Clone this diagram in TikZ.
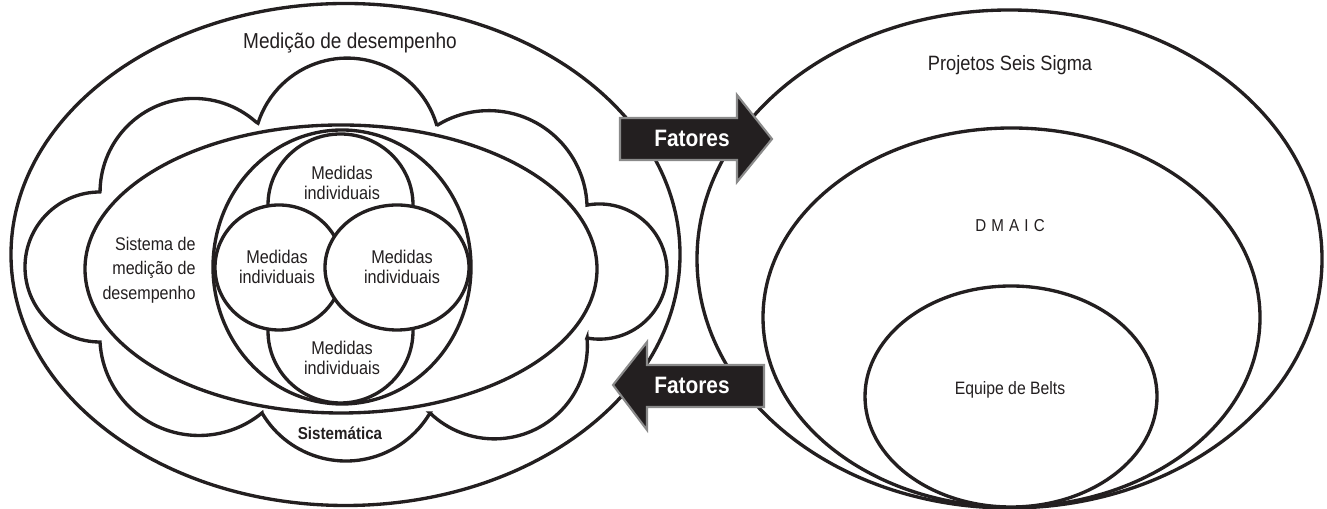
\documentclass[tikz,border=0pt]{standalone}
\usepackage{fontspec}
\setmainfont{Liberation Sans}[FakeStretch=0.88]
\usepackage{tikz}
\usetikzlibrary{positioning}
\definecolor{ink}{HTML}{231F20}
\definecolor{rim}{HTML}{8A8A8A}
\tikzstyle{ring} = [draw=ink, fill=white]
\tikzstyle{lbl} = [text=ink, align=center, inner sep=0pt, font=\fontsize{10.5}{11.3}\selectfont]
\tikzstyle{big} = [text=ink, inner sep=0pt, font=\fontsize{11.8}{14}\selectfont]
\tikzstyle{fat} = [fill=ink, draw=rim, line width=1.2pt, line join=miter]
\tikzstyle{fattxt} = [text=white, inner sep=0pt, font=\fontsize{13.5}{15}\selectfont\bfseries]

\begin{document}
\begin{tikzpicture}[x=0.02cm, y=0.02cm, line width=1.9pt]
        \useasboundingbox (0,0) rectangle (1327,509);

        \draw[ring] (345.5,254.5) ellipse [x radius=334.5, y radius=251];
        \draw[ring] (100,317) arc[start angle=90, end angle=270, radius=75]
            -- (100,167) arc[start angle=183.3, end angle=309.4, radius=99.2]
            -- (262,96) arc[start angle=210.5, end angle=329.5, radius=97.5]
            -- (430,96) arc[start angle=226.2, end angle=364.9, radius=93]
            -- (587,171) arc[start angle=259.4, end angle=460.6, radius=67.6]
            -- (587,304) arc[start angle=2.3, end angle=121.9, radius=98.3]
            -- (437,383) arc[start angle=15.9, end angle=162.3, radius=93.5]
            -- (256,387) arc[start angle=48.5, end angle=179.8, radius=93.8]
            -- cycle;
        \draw[ring] (341,240) ellipse [x radius=256, y radius=144];
        \draw[ring] (342,242) ellipse [x radius=129, y radius=137];
        \draw[ring] (340.5,304) ellipse [x radius=72.5, y radius=71];
        \draw[ring] (340.5,178) ellipse [x radius=72.5, y radius=72];
        \draw[ring] (279,241.5) ellipse [x radius=64, y radius=62.5];
        \draw[ring] (397,241.5) ellipse [x radius=72, y radius=62.5];

        \draw[ring] (1009.5,250) ellipse [x radius=312.5, y radius=249];
        \draw[ring] (1011.5,191.5) ellipse [x radius=248.5, y radius=189.5];
        \draw[ring] (1011,112.5) ellipse [x radius=146, y radius=110.5];

        \draw[fat] (620,349) -- (620,391) -- (737,391) -- (737,414) -- (772,370) -- (737,327) -- (737,349) -- cycle;
        \draw[fat] (764,102) -- (764,144) -- (647,144) -- (647,167) -- (613,124) -- (647,79) -- (647,102) -- cycle;

        \node[big, font=\fontsize{12.3}{14}\selectfont] (m1) at (350,466) {Medição de desempenho};
        \node[lbl, align=right, font=\fontsize{10.4}{14}\selectfont] (m2) at (149,239) {Sistema de\\medição de\\desempenho};
        \node[lbl] (m3) at (342,326) {Medidas\\individuais};
        \node[lbl] (m4) at (277,242) {Medidas\\individuais};
        \node[lbl] (m5) at (402,242) {Medidas\\individuais};
        \node[lbl] (m6) at (342,151) {Medidas\\individuais};
        \node[big, font=\fontsize{9.8}{11}\selectfont\bfseries] (m7) at (340,76) {Sistemática};

        \node[fattxt] (f1) at (692,371) {Fatores};
        \node[fattxt] (f2) at (692,124) {Fatores};

        \node[big] (p1) at (1010,444) {Projetos Seis Sigma};
        \node[big, font=\fontsize{9.8}{11}\selectfont\addfontfeatures{LetterSpace=30}] (p2) at (1010,283) {DMAIC};
        \node[big, font=\fontsize{10.2}{12}\selectfont] (p3) at (1010,119) {Equipe de Belts};

    \end{tikzpicture}
\end{document}
